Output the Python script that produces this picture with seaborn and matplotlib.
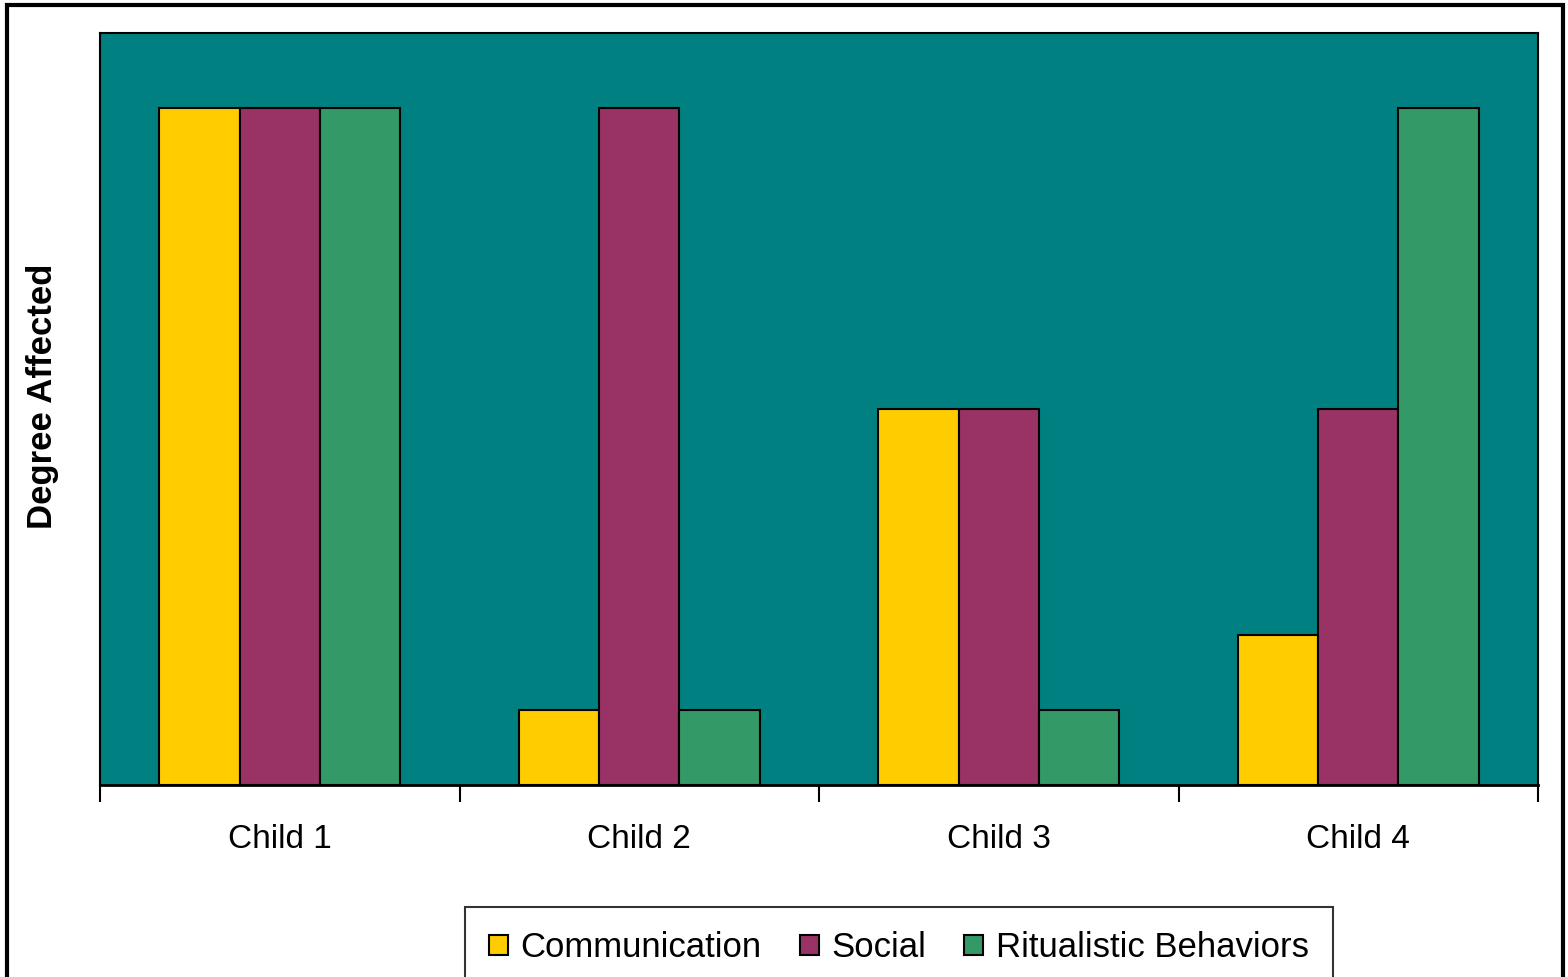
import pandas as pd
import seaborn as sns
import matplotlib.pyplot as plt
from matplotlib.patches import Rectangle

# data
children = ['Child 1', 'Child 2', 'Child 3', 'Child 4']
communication = [9, 1, 5, 2]
social = [9, 9, 5, 5]
ritualistic = [9, 1, 1, 9]
domains = ['Communication', 'Social', 'Ritualistic Behaviors']
colors = ['#FFCC00', '#993366', '#339966']

df = pd.DataFrame({
    'Child': children * 3,
    'Domain': [d for d in domains for _ in children],
    'Value': communication + social + ritualistic,
})

sns.set_style('white')
plt.rcParams['font.family'] = ['Liberation Sans', 'DejaVu Sans']
plt.rcParams['text.color'] = 'black'
plt.rcParams['axes.labelcolor'] = 'black'
plt.rcParams['xtick.color'] = 'black'

fig = plt.figure(figsize=(15.68, 9.77), dpi=100)
ax = fig.add_axes([0.0638, 0.1965, 0.9171, 0.7697])
ax.set_facecolor('#008080')

sns.barplot(data=df, x='Child', y='Value', hue='Domain', palette=colors, saturation=1,
            width=0.67, gap=0, edgecolor='black', linewidth=1.5, ax=ax)

handles, labels = ax.get_legend_handles_labels()
ax.legend_.remove()

ax.set_ylim(0, 10)
ax.set_xlim(-0.5, 3.5)
ax.set_yticks([])
ax.set_xlabel('')
ax.set_ylabel('Degree Affected', fontsize=25, fontweight='bold')
ax.yaxis.set_label_coords(-0.0285, 0.517)
ax.set_xticks(range(4))
ax.set_xticklabels(children, fontsize=24)
ax.set_xticks([-0.5, 0.5, 1.5, 2.5, 3.5], minor=True)
ax.tick_params(axis='x', which='major', length=0, pad=28)
ax.tick_params(axis='x', which='minor', length=12, width=1.5, color='black', direction='out', bottom=True)
for side in ['top', 'left', 'right', 'bottom']:
    ax.spines[side].set_color('black')
    ax.spines[side].set_linewidth(1.5)
ax.spines['bottom'].set_linewidth(2)

leg = fig.legend(handles, labels, loc='upper center', bbox_to_anchor=(0.5733, 0.0717),
                 ncol=3, fontsize=25, frameon=True, fancybox=False, edgecolor='black',
                 handlelength=0.55, handleheight=0.55, handletextpad=0.35,
                 columnspacing=1.1, borderpad=0.7, borderaxespad=0)
leg.get_frame().set_linewidth(1.5)

# outer chart border
fig.patches.append(Rectangle((0.0045, -0.05), 0.9925, 1.045, transform=fig.transFigure,
                             fill=False, edgecolor='black', linewidth=3))

fig.savefig('out.png', dpi=100)
